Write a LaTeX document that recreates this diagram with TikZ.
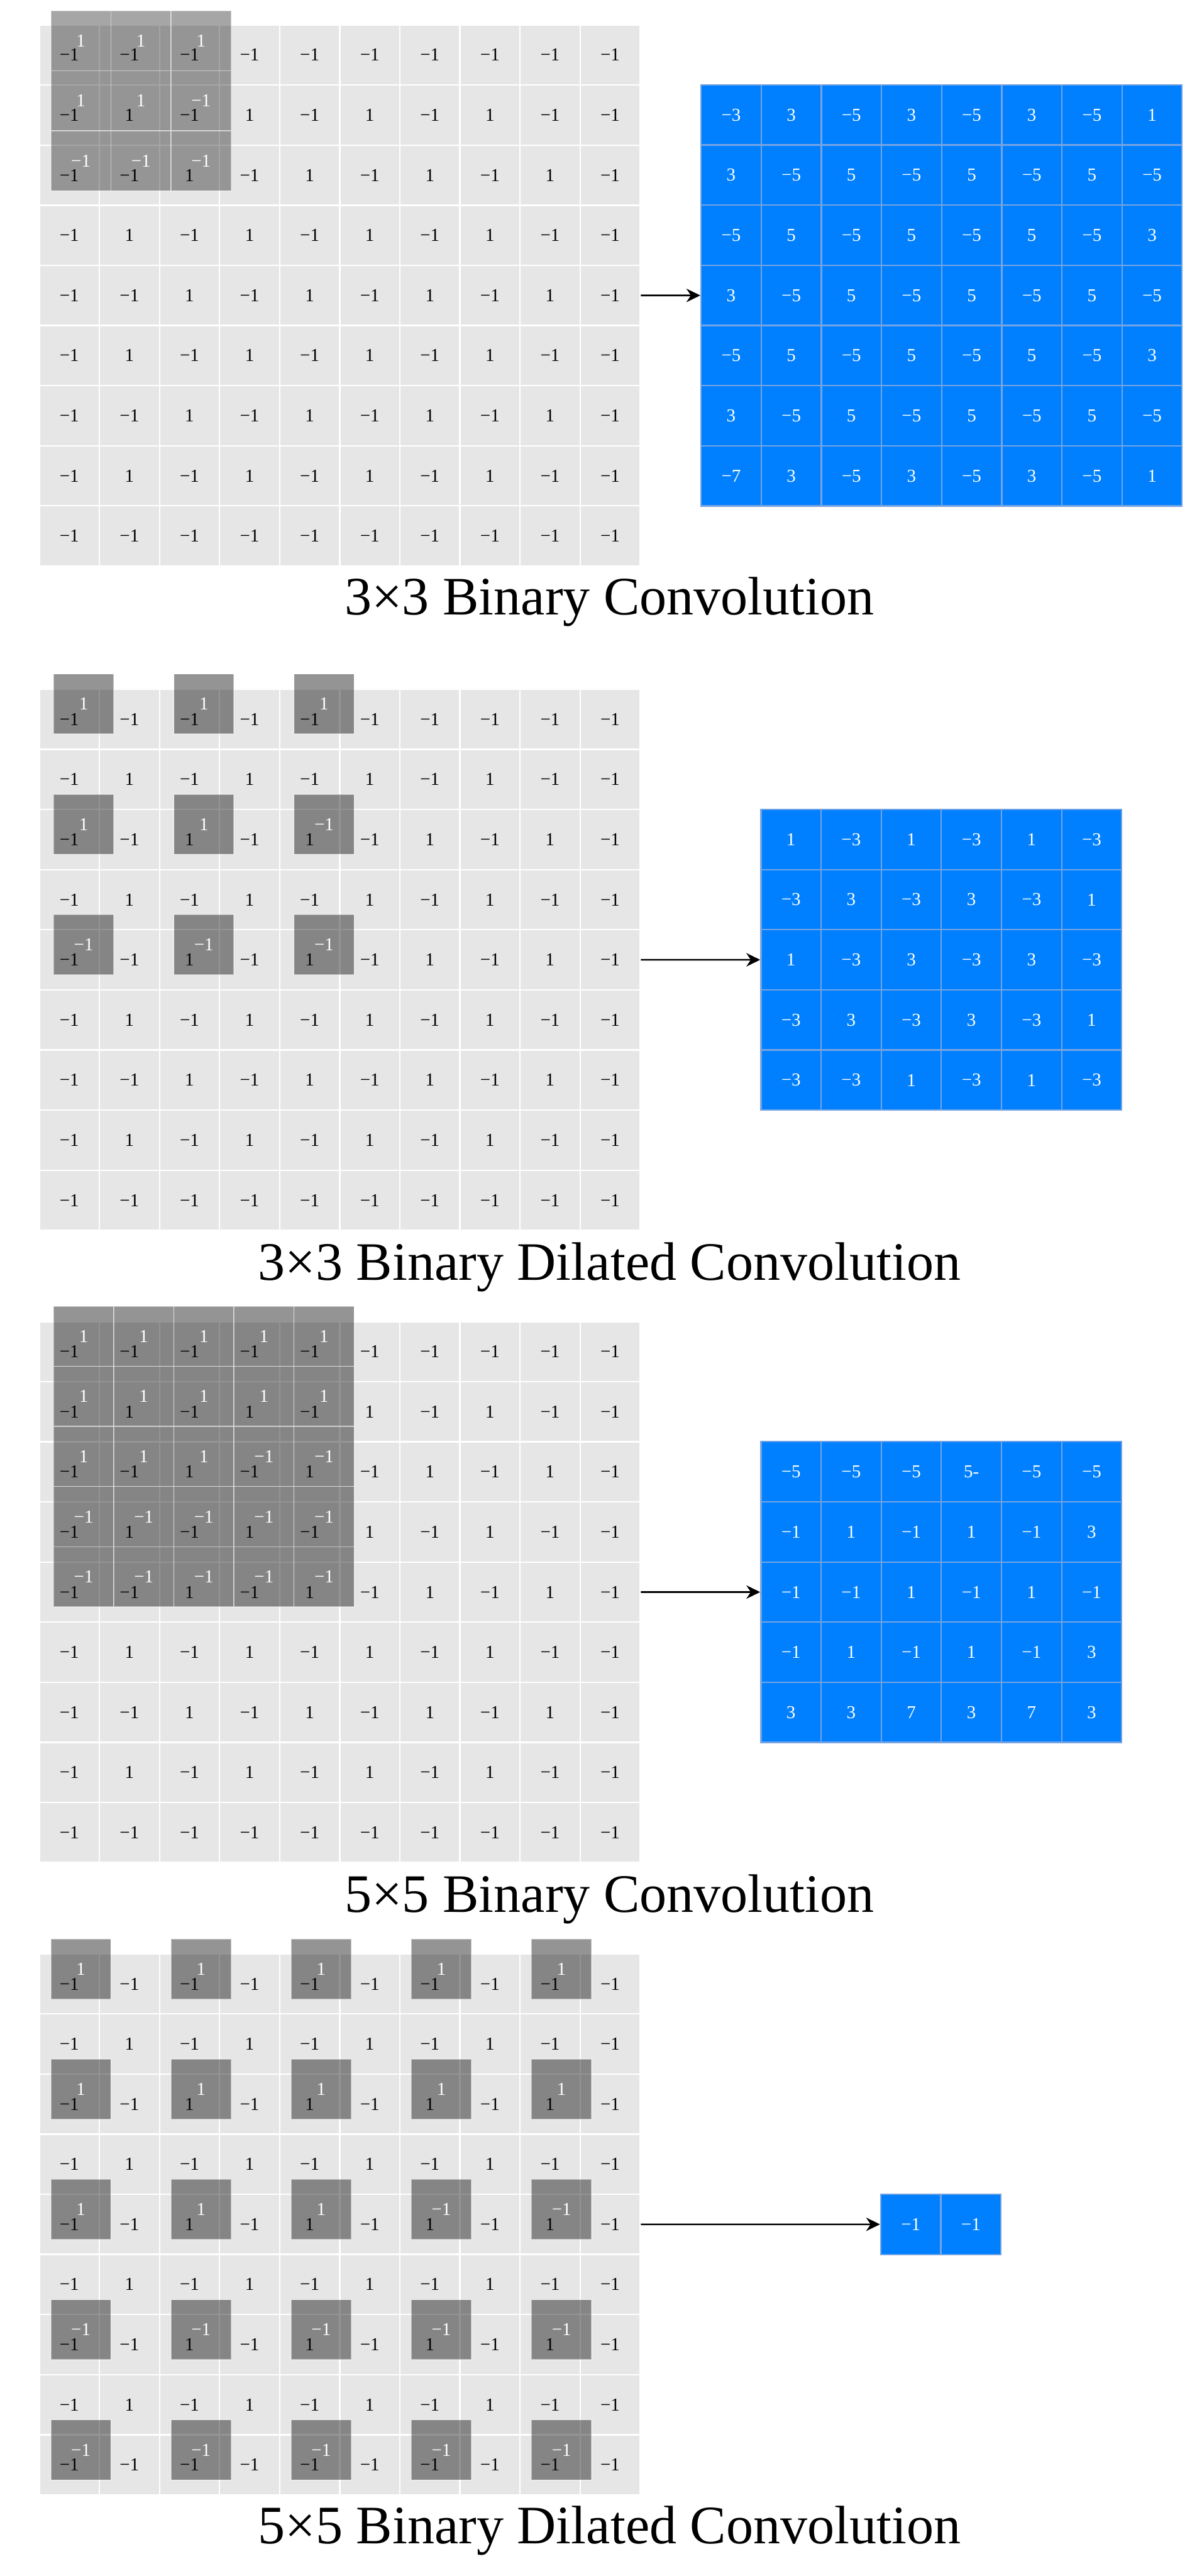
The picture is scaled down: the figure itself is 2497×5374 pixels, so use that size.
\documentclass[tikz,border=0pt]{standalone}
\usepackage{fontspec}
\setmainfont{Liberation Serif}
\usetikzlibrary{arrows.meta}
\definecolor{cellgray}{RGB}{230,230,230}
\definecolor{outblue}{RGB}{0,128,255}
\definecolor{outline}{RGB}{118,164,226}
\newcommand\cellfont{\fontsize{11.4}{12}\selectfont}
\newcommand\titlefont{\fontsize{33.9}{40}\selectfont}
\tikzset{
  incell/.style={draw=white, line width=0.9pt, fill=cellgray, minimum width=37.62pt,
    minimum height=37.62pt, inner sep=0pt, font=\cellfont, text=black},
  kcell/.style={draw=white, draw opacity=0.45, line width=0.6pt, fill=black,
    fill opacity=#1, text opacity=1, text=white, minimum width=37.62pt,
    minimum height=37.62pt, inner sep=0pt, font=\cellfont},
  kcell/.default=0.42,
  ocell/.style={draw=outline, line width=0.9pt, fill=outblue, text=white,
    minimum width=37.65pt, minimum height=37.65pt, inner sep=0pt, font=\cellfont},
  conv/.style={-{Stealth[length=8.7pt,width=8.4pt]}, line width=1pt},
  convtitle/.style={font=\titlefont, anchor=base, inner sep=0pt}
}
% input grid: prefix, x0, y0
\newcommand\ingrid[3]{%
  \foreach \rowvals [count=\r from 0] in {
    {−1,−1,−1,−1,−1,−1,−1,−1,−1,−1},
    {−1,1,−1,1,−1,1,−1,1,−1,−1},
    {−1,−1,1,−1,1,−1,1,−1,1,−1},
    {−1,1,−1,1,−1,1,−1,1,−1,−1},
    {−1,−1,1,−1,1,−1,1,−1,1,−1},
    {−1,1,−1,1,−1,1,−1,1,−1,−1},
    {−1,−1,1,−1,1,−1,1,−1,1,−1},
    {−1,1,−1,1,−1,1,−1,1,−1,−1},
    {−1,−1,−1,−1,−1,−1,−1,−1,−1,−1}}{
    \foreach \v [count=\c from 0] in \rowvals {
      \node[incell] (#1-\r-\c) at ({#2+(\c+0.5)*125.4},{#3+(\r+0.5)*125.4}) {\v};
    }
  }%
}
% kernel overlay: prefix, x0, y0, dilation, dx, dy, opacity, rows
\newcommand\kgrid[8]{%
  \foreach \rowvals [count=\r from 0] in {#8}{
    \foreach \v [count=\c from 0] in \rowvals {
      \node[kcell=#7] (#1-\r-\c) at ({#2+(#4*\c+0.5)*125.4+#5},{#3+(#4*\r+0.5)*125.4+#6}) {\v};
    }
  }%
}
% output grid: prefix, x0, y0, rows
\newcommand\outgrid[4]{%
  \foreach \rowvals [count=\r from 0] in {#4}{
    \foreach \v [count=\c from 0] in \rowvals {
      \node[ocell] (#1-\r-\c) at ({#2+(\c+0.5)*125.5},{#3+(\r+0.5)*125.5}) {\v};
    }
  }%
}
\begin{document}
\begin{tikzpicture}[x=0.3pt,y=-0.3pt]
\useasboundingbox (0,0) rectangle (2497,5374);
% ---------- panel 1
\ingrid{p1g}{82}{52}
\kgrid{p1k}{82}{52}{1}{24}{-30}{0.35}{{1,1,1},{1,1,−1},{−1,−1,−1}}
\outgrid{p1o}{1463}{177.05}{{−3,3,−5,3,−5,3,−5,1},{3,−5,5,−5,5,−5,5,−5},{−5,5,−5,5,−5,5,−5,3},{3,−5,5,−5,5,−5,5,−5},{−5,5,−5,5,−5,5,−5,3},{3,−5,5,−5,5,−5,5,−5},{−7,3,−5,3,−5,3,−5,1}}
\draw[conv] (p1g-4-9.east) -- (p1o-3-0.west);
\node[convtitle] (t1) at (1272,1283) {3×3 Binary Convolution};
% ---------- panel 2
\ingrid{p2g}{82}{1438}
\kgrid{p2k}{82}{1438}{2}{30}{-32}{0.42}{{1,1,1},{1,1,−1},{−1,−1,−1}}
\outgrid{p2o}{1588}{1688.55}{{1,−3,1,−3,1,−3},{−3,3,−3,3,−3,1},{1,−3,3,−3,3,−3},{−3,3,−3,3,−3,1},{−3,−3,1,−3,1,−3}}
\draw[conv] (p2g-4-9.east) -- (p2o-2-0.west);
\node[convtitle] (t2) at (1272,2670) {3×3 Binary Dilated Convolution};
% ---------- panel 3
\ingrid{p3g}{82}{2757}
\kgrid{p3k}{82}{2757}{1}{30}{-32}{0.42}{{1,1,1,1,1},{1,1,1,1,1},{1,1,1,−1,−1},{−1,−1,−1,−1,−1},{−1,−1,−1,−1,−1}}
\outgrid{p3o}{1588}{3007.55}{{−5,−5,−5,5-,−5,−5},{−1,1,−1,1,−1,3},{−1,−1,1,−1,1,−1},{−1,1,−1,1,−1,3},{3,3,7,3,7,3}}
\draw[conv] (p3g-4-9.east) -- (p3o-2-0.west);
\node[convtitle] (t3) at (1272,3989) {5×5 Binary Convolution};
% ---------- panel 4
\ingrid{p4g}{82}{4076}
\kgrid{p4k}{82}{4076}{2}{24}{-31}{0.42}{{1,1,1,1,1},{1,1,1,1,1},{1,1,1,−1,−1},{−1,−1,−1,−1,−1},{−1,−1,−1,−1,−1}}
\outgrid{p4o}{1838}{4577.55}{{−1,−1}}
\draw[conv] (p4g-4-9.east) -- (p4o-0-0.west);
\node[convtitle] (t4) at (1272,5307) {5×5 Binary Dilated Convolution};
\end{tikzpicture}
\end{document}
